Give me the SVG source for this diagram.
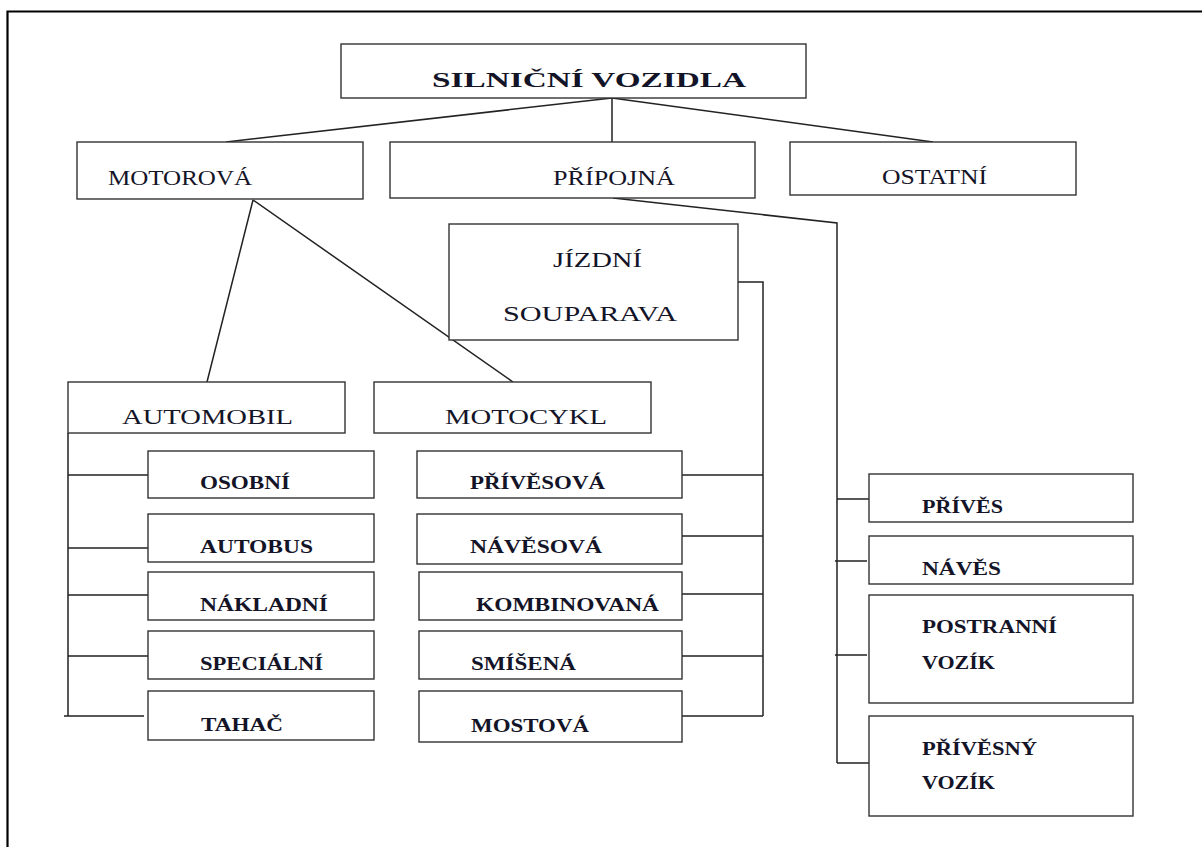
<svg xmlns="http://www.w3.org/2000/svg" width="1202" height="847" viewBox="0 0 1202 847">
<style>
.box{fill:#fff;stroke:#333;stroke-width:1.4}
.ln{fill:none;stroke:#222;stroke-width:1.5}
text{font-family:"Liberation Serif","Times New Roman",serif;fill:#141428}
.h{font-size:22px}
.b{font-size:18.5px;font-weight:bold}
.s{font-size:22px;font-weight:bold}
</style>
<rect width="1202" height="847" fill="#fff"/>
<path d="M7.5 847 V11.5 H1202" fill="none" stroke="#000" stroke-width="2.2"/>
<g id="connectors">
<path class="ln" d="M612 98 V142 M612 98 L226 142 M612 98 L933 142"/>
<path class="ln" d="M253 200 L207 382 M253 200 L513 382"/>
<path class="ln" d="M613 198 L837 223 V763"/>
<path class="ln" d="M837 499 H869 M835 561 H867 M835 655 H867 M837 763 H869"/>
<path class="ln" d="M738 282 H763 V716"/>
<path class="ln" d="M682 475 H763 M682 536 H763 M682 594 H763 M682 656 H763 M682 716 H763"/>
<path class="ln" d="M68 433 V716 M68 475 H148 M68 548 H148 M68 595 H148 M68 656 H148 M64 716 H144"/>
</g>
<g id="n-root"><rect class="box" x="341" y="44" width="465" height="54"/><text class="s" x="432" y="87" textLength="314" lengthAdjust="spacingAndGlyphs">SILNIČNÍ VOZIDLA</text></g>
<g id="n-motorova"><rect class="box" x="77" y="142" width="286" height="57"/><text class="h" x="108" y="185" textLength="144" lengthAdjust="spacingAndGlyphs">MOTOROVÁ</text></g>
<g id="n-pripojna"><rect class="box" x="390" y="142" width="365" height="56"/><text class="h" x="553" y="185" textLength="122" lengthAdjust="spacingAndGlyphs">PŘÍPOJNÁ</text></g>
<g id="n-ostatni"><rect class="box" x="790" y="142" width="286" height="53"/><text class="h" x="882" y="184" textLength="105" lengthAdjust="spacingAndGlyphs">OSTATNÍ</text></g>
<g id="n-souprava"><rect class="box" x="449" y="224" width="289" height="116"/><text class="h" x="553" y="267" textLength="89" lengthAdjust="spacingAndGlyphs">JÍZDNÍ</text><text class="h" x="503" y="321" textLength="174" lengthAdjust="spacingAndGlyphs">SOUPARAVA</text></g>
<g id="n-automobil"><rect class="box" x="68" y="382" width="277" height="51"/><text class="h" x="122" y="424" textLength="171" lengthAdjust="spacingAndGlyphs">AUTOMOBIL</text></g>
<g id="n-motocykl"><rect class="box" x="374" y="382" width="277" height="51"/><text class="h" x="445" y="424" textLength="162" lengthAdjust="spacingAndGlyphs">MOTOCYKL</text></g>
<g id="n-osobni"><rect class="box" x="148" y="451" width="226" height="47"/><text class="b" x="200" y="489" textLength="90" lengthAdjust="spacingAndGlyphs">OSOBNÍ</text></g>
<g id="n-autobus"><rect class="box" x="148" y="514" width="226" height="48"/><text class="b" x="200" y="553" textLength="113" lengthAdjust="spacingAndGlyphs">AUTOBUS</text></g>
<g id="n-nakladni"><rect class="box" x="148" y="572" width="226" height="48"/><text class="b" x="200" y="611" textLength="128" lengthAdjust="spacingAndGlyphs">NÁKLADNÍ</text></g>
<g id="n-specialni"><rect class="box" x="148" y="631" width="226" height="48"/><text class="b" x="200" y="670" textLength="123" lengthAdjust="spacingAndGlyphs">SPECIÁLNÍ</text></g>
<g id="n-tahac"><rect class="box" x="148" y="691" width="226" height="49"/><text class="b" x="201" y="731" textLength="82" lengthAdjust="spacingAndGlyphs">TAHAČ</text></g>
<g id="n-privesova"><rect class="box" x="417" y="451" width="265" height="47"/><text class="b" x="470" y="489" textLength="135" lengthAdjust="spacingAndGlyphs">PŘÍVĚSOVÁ</text></g>
<g id="n-navesova"><rect class="box" x="417" y="514" width="265" height="50"/><text class="b" x="470" y="553" textLength="132" lengthAdjust="spacingAndGlyphs">NÁVĚSOVÁ</text></g>
<g id="n-kombinovana"><rect class="box" x="419" y="572" width="263" height="48"/><text class="b" x="476" y="611" textLength="183" lengthAdjust="spacingAndGlyphs">KOMBINOVANÁ</text></g>
<g id="n-smisena"><rect class="box" x="419" y="631" width="263" height="48"/><text class="b" x="471" y="670" textLength="105" lengthAdjust="spacingAndGlyphs">SMÍŠENÁ</text></g>
<g id="n-mostova"><rect class="box" x="419" y="691" width="263" height="51"/><text class="b" x="471" y="732" textLength="118" lengthAdjust="spacingAndGlyphs">MOSTOVÁ</text></g>
<g id="n-prives"><rect class="box" x="869" y="474" width="264" height="48"/><text class="b" x="922" y="513" textLength="81" lengthAdjust="spacingAndGlyphs">PŘÍVĚS</text></g>
<g id="n-naves"><rect class="box" x="869" y="536" width="264" height="48"/><text class="b" x="922" y="575" textLength="79" lengthAdjust="spacingAndGlyphs">NÁVĚS</text></g>
<g id="n-postranni"><rect class="box" x="869" y="595" width="264" height="108"/><text class="b" x="922" y="633" textLength="135" lengthAdjust="spacingAndGlyphs">POSTRANNÍ</text><text class="b" x="922" y="669" textLength="73" lengthAdjust="spacingAndGlyphs">VOZÍK</text></g>
<g id="n-privesny"><rect class="box" x="869" y="716" width="264" height="100"/><text class="b" x="922" y="755" textLength="115" lengthAdjust="spacingAndGlyphs">PŘÍVĚSNÝ</text><text class="b" x="922" y="789" textLength="73" lengthAdjust="spacingAndGlyphs">VOZÍK</text></g>
</svg>
